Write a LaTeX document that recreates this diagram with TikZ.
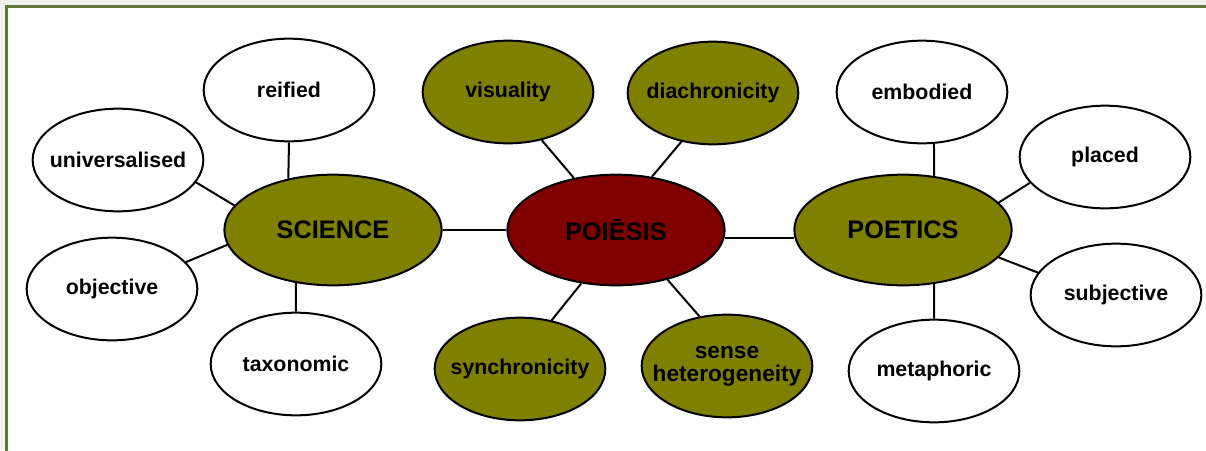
\documentclass[tikz,border=0pt]{standalone}
\usepackage{fontspec}
\setmainfont{Liberation Sans}
\usetikzlibrary{shapes.geometric}
\definecolor{olivebg}{RGB}{128,128,0}
\definecolor{maroonbg}{RGB}{128,0,0}
\definecolor{framegreen}{RGB}{94,118,52}
\tikzset{
  leaf/.style={ellipse,draw,line width=1.5pt,fill=white,inner sep=0pt,minimum width=128pt,minimum height=77pt,font=\fontsize{16}{14}\bfseries},
  facet/.style={leaf,fill=olivebg},
  hub/.style={leaf,fill=olivebg,minimum width=163pt,minimum height=83pt,font=\fontsize{19}{22}\bfseries},
  core/.style={hub,fill=maroonbg},
  link/.style={line width=1.5pt}
}
\newcommand{\tx}[1]{\makebox[0pt]{#1}}
\newcommand{\txtwo}[2]{\makebox[0pt]{\begin{tabular}{@{}c@{}}#1\\#2\end{tabular}}}

\begin{document}
\begin{tikzpicture}[x=0.75pt,y=-0.75pt]
\useasboundingbox (0,0) rectangle (1206,450);
\begin{scope}
\clip (0,0) rectangle (1206,450);
\fill[gray!12] (0,0) rectangle (1206,450);
\draw[framegreen,line width=2.25pt,fill=white] (6.5,6.5) rectangle (1220,465);
\end{scope}
% hubs
\node[hub] (science) at (333,230) {\tx{SCIENCE}};
\node[core] (poiesis) at (616,230) {\tx{POIĒSIS}};
\node[hub] (poetics) at (903,230) {\tx{POETICS}};
% science side
\node[leaf] (reified) at (289,90) {\tx{reified}};
\node[leaf] (universalised) at (118,160) {\tx{universalised}};
\node[leaf] (objective) at (112,289) {\tx{objective}};
\node[leaf] (taxonomic) at (296,364) {\tx{taxonomic}};
% poiesis
\node[facet] (visuality) at (508,92) {\tx{visuality}};
\node[facet] (diachronicity) at (713,93) {\tx{diachronicity}};
\node[facet] (synchronicity) at (520,369) {\tx{synchronicity}};
\node[facet,font=\fontsize{17}{15}\bfseries] (sense) at (727,366) {\txtwo{sense}{heterogeneity}};
% poetics side
\node[leaf] (embodied) at (922,92) {\tx{embodied}};
\node[leaf] (placed) at (1105,157) {\tx{placed}};
\node[leaf] (subjective) at (1116,295) {\tx{subjective}};
\node[leaf] (metaphoric) at (934,371) {\tx{metaphoric}};
% links
\draw[link] (universalised.-16) -- (science.166);
\draw[link] (objective.20) -- (science.188);
\draw[link] (reified.south) -- (science.131);
\draw[link] (taxonomic.north) -- (science.-125);
\draw[link] (science.east) -- (poiesis.west);
\draw[link] (visuality.-55) -- (poiesis.129);
\draw[link] (diachronicity.-123) -- (poiesis.56);
\draw[link] (synchronicity.57) -- (poiesis.-123);
\draw[link] (sense.119) -- (poiesis.-44);
\draw[link] (poiesis.-4) -- (poetics.184);
\draw[link] (embodied.-77) -- (poetics.60);
\draw[link] (metaphoric.north) -- (poetics.-60);
\draw[link] (placed.-161) -- (poetics.16);
\draw[link] (subjective.164) -- (poetics.-16);
\end{tikzpicture}
\end{document}
